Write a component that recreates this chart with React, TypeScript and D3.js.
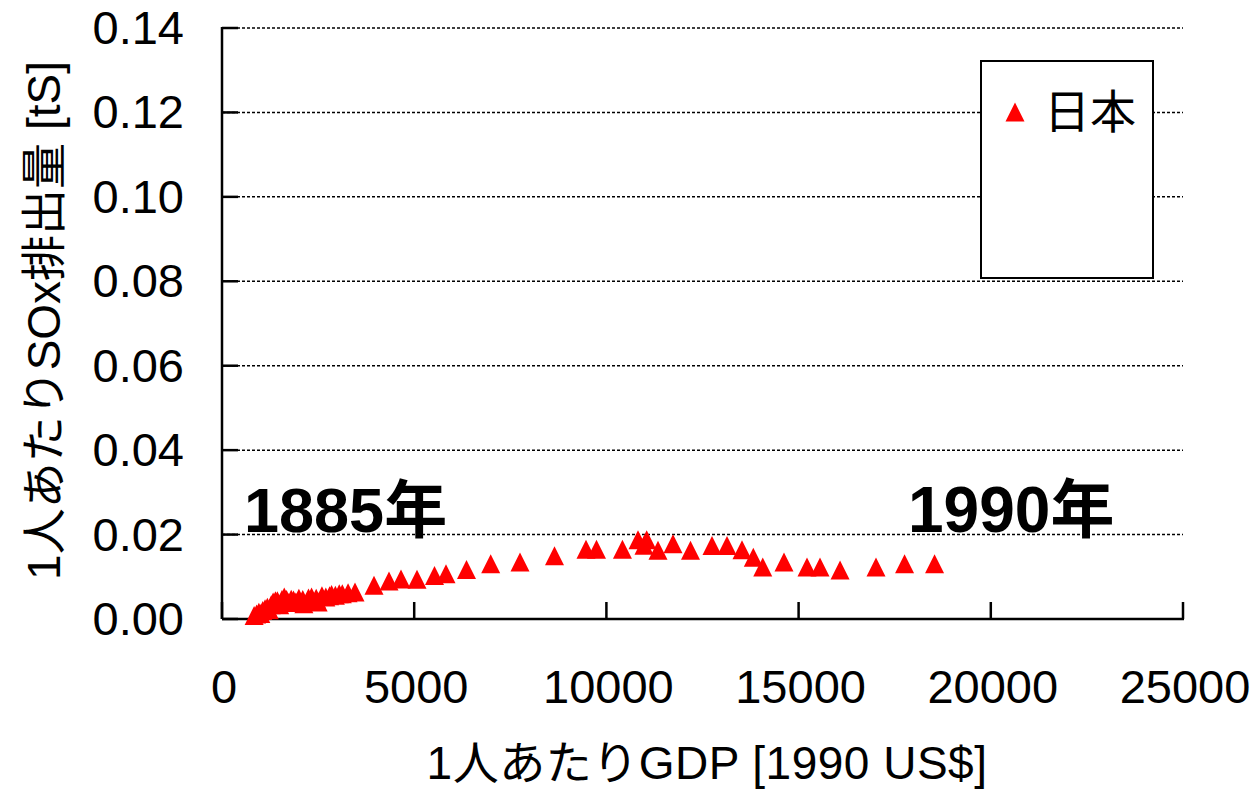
import * as d3 from 'd3';

// GDP per capita [1990 US$] and per-capita SOx emissions [tS], Japan 1885-1990
const gdp = [
  836, 900, 960, 1010, 1060, 1120, 1180, 1230, 1280, 1330, 1390, 1440, 1500, 1560, 1620, 1680,
  1720, 1800, 1860, 1920, 2000, 2100, 2130, 2250, 2330, 2450, 2500, 2600, 2700, 2800, 2850,
  2950, 3050, 3130, 3280, 3460,
  3954, 4344, 4657, 5073, 5528, 5827, 6360, 6990, 7752, 8650, 9469, 9742, 10418, 10822, 10978,
  11048, 11342, 11733, 12188, 12747, 13137, 13527, 13822, 14068, 14620, 15219, 15557, 16078,
  17014, 17757, 18537,
];
const sox = [
  0.0008, 0.0012, 0.0016, 0.0013, 0.002, 0.0024, 0.0028, 0.0022, 0.0034, 0.004, 0.0043, 0.0043,
  0.0034, 0.0046, 0.0052, 0.0046, 0.0039, 0.0047, 0.0045, 0.004, 0.0049, 0.0046, 0.0036, 0.005,
  0.0052, 0.0049, 0.004, 0.0055, 0.0052, 0.0055, 0.0058, 0.0056, 0.006, 0.006, 0.0062, 0.0064,
  0.008, 0.009, 0.0095, 0.0094, 0.0103, 0.0107, 0.0117, 0.0131, 0.0135, 0.015, 0.0165, 0.0165,
  0.0165, 0.0188, 0.0175, 0.0188, 0.0163, 0.0178, 0.0163, 0.0174, 0.0174, 0.0164, 0.0146,
  0.0123, 0.0135, 0.0123, 0.0123, 0.0116, 0.0123, 0.0131, 0.0131,
];
const xTicks = [0, 5000, 10000, 15000, 20000, 25000];
const yTicks = [0, 0.02, 0.04, 0.06, 0.08, 0.1, 0.12, 0.14];
const seriesName = '日本';

const width = 1258;
const height = 791;
const left = 222;
const right = 1183;
const top = 28;
const bottom = 619;
const font = '"Liberation Sans", Arial, "Noto Sans CJK JP", sans-serif';

const x = d3.scaleLinear().domain([0, 25000]).range([left, right]);
const y = d3.scaleLinear().domain([0, 0.14]).range([bottom, top]);

// triangle marker centred on the point
const tri = (cx: number, cy: number, s = 19) =>
  `M${cx},${cy - s / 2}L${cx + s / 2},${cy + s / 2}L${cx - s / 2},${cy + s / 2}Z`;

export default function App() {
  const pts = gdp.map((g, i) => ({ g, v: sox[i] }));
  return (
    <svg
      width={width}
      height={height}
      style={{ position: 'absolute', left: 0, top: 0, background: '#fff' }}
      fontFamily={font}
    >
      {/* grid lines */}
      {yTicks.filter(t => t > 0).map(t => (
        <line key={'g' + t} x1={left} x2={right} y1={y(t)} y2={y(t)}
          stroke="#000" strokeWidth={1.5} strokeDasharray="3,2" />
      ))}
      {/* axes */}
      <line x1={left} x2={left} y1={top - 1} y2={bottom} stroke="#000" strokeWidth={2.5} />
      <line x1={left} x2={right + 1} y1={bottom} y2={bottom} stroke="#000" strokeWidth={2.5} />
      {yTicks.map(t => (
        <line key={'yt' + t} x1={left} x2={left + 16} y1={y(t)} y2={y(t)} stroke="#000" strokeWidth={2.5} />
      ))}
      {xTicks.map(t => (
        <line key={'xt' + t} x1={x(t)} x2={x(t)} y1={bottom} y2={bottom - 17} stroke="#000" strokeWidth={2.5} />
      ))}
      {/* tick labels */}
      {yTicks.map(t => (
        <text key={'yl' + t} x={184} y={y(t) + 16} textAnchor="end" fontSize={47} fill="#000">
          {d3.format('.2f')(t)}
        </text>
      ))}
      {xTicks.map(t => (
        <text key={'xl' + t} x={x(t) + 2} y={703} textAnchor="middle" fontSize={47} fill="#000">
          {t}
        </text>
      ))}
      {/* axis titles */}
      <text x={707} y={779} textAnchor="middle" fontSize={46} letterSpacing={0.5} fill="#000">1人あたりGDP [1990 US$]</text>
      <text transform={`translate(60,${(top + bottom) / 2 - 3}) rotate(-90)`} textAnchor="middle" fontSize={46} fill="#000">
        1人あたりSOx排出量 [tS]
      </text>
      {/* points */}
      {pts.map((p, i) => (
        <path key={i} d={tri(x(p.g), y(p.v))} fill="#ff0000" />
      ))}
      {/* annotations */}
      <text x={244} y={532} fontSize={63} fontWeight="bold" fill="#000">1885年</text>
      <text x={908} y={532} fontSize={64} fontWeight="bold" fill="#000">1990年</text>
      {/* legend */}
      <rect x={981} y={61} width={172} height={217} fill="#fff" stroke="#000" strokeWidth={2} />
      <path d={tri(1015, 112, 19)} fill="#ff0000" />
      <text x={1044} y={128} fontSize={46} fill="#000">{seriesName}</text>
    </svg>
  );
}
